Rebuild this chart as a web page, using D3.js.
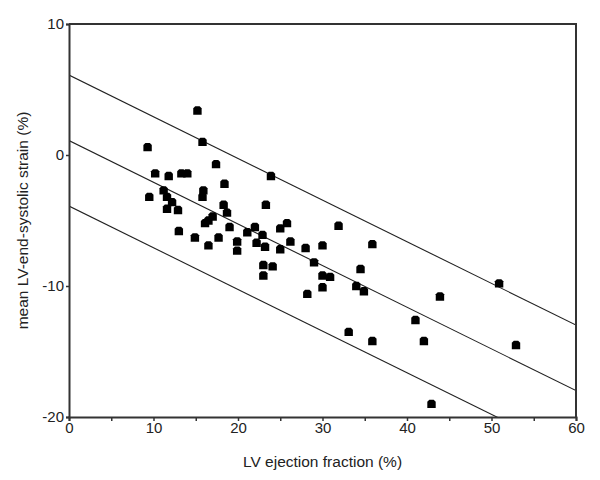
<!DOCTYPE html>
<html>
<head>
<meta charset="utf-8">
<script src="https://cdnjs.cloudflare.com/ajax/libs/d3/7.8.5/d3.min.js"></script>
<style>
  body { margin: 0; background: #fff; }
  text { font-family: 'Liberation Sans', Arial, sans-serif; fill: #222; }
</style>
</head>
<body>
<div id="chart"></div>
<script>
// LV ejection fraction (%)
const ejection = [9.3, 9.5, 10.2, 11.2, 11.8, 11.6, 11.6, 12.2, 12.9, 13.0,
  13.3, 14.0, 14.9, 15.2, 15.8, 15.9, 15.8, 16.1, 16.5, 17.0,
  16.5, 17.4, 17.7, 18.4, 18.3, 18.7, 19.0, 19.9, 19.9, 21.1,
  22.0, 22.2, 22.9, 23.2, 23.0, 23.0, 23.3, 23.9, 24.1, 25.0,
  25.0, 25.8, 26.2, 28.0, 28.2, 29.0, 30.0, 30.0, 30.9, 30.0,
  31.9, 33.1, 34.0, 34.5, 34.9, 35.9, 35.9, 41.0, 42.0, 42.9,
  43.9, 50.9, 52.9];
// mean LV end-systolic strain (%)
const strain = [0.6, -3.2, -1.4, -2.7, -1.6, -3.2, -4.1, -3.6, -4.2, -5.8,
  -1.4, -1.4, -6.3, 3.4, 1.0, -2.7, -3.2, -5.2, -5.0, -4.7,
  -6.9, -0.7, -6.3, -2.2, -3.8, -4.4, -5.5, -6.6, -7.3, -5.9,
  -5.5, -6.7, -6.1, -7.0, -8.4, -9.2, -3.8, -1.6, -8.5, -5.6,
  -7.2, -5.2, -6.6, -7.1, -10.6, -8.2, -6.9, -9.2, -9.3, -10.1,
  -5.4, -13.5, -10.0, -8.7, -10.4, -6.8, -14.2, -12.6, -14.2, -19.0,
  -10.8, -9.8, -14.5];
// regression line and +/- limits
const fitIntercept = 1.1;
const fitSlope = -0.318;
const limitOffsets = [5, 0, -5];
const xTickLabels = [0, 10, 20, 30, 40, 50, 60];
const xMinorTicks = [5, 15, 25, 35, 45, 55];
const yTickLabels = [10, 0, -10, -20];

const width = 600, height = 480;
const margin = { top: 24, right: 24, bottom: 63, left: 69 };

const svg = d3.select('#chart').append('svg')
  .attr('width', width)
  .attr('height', height);

const x = d3.scaleLinear().domain([0, 60]).range([margin.left, width - margin.right]);
const y = d3.scaleLinear().domain([-20, 10]).range([height - margin.bottom, margin.top]);

svg.append('clipPath').attr('id', 'plot-clip')
  .append('rect')
  .attr('x', x(0)).attr('y', y(10))
  .attr('width', x(60) - x(0)).attr('height', y(-20) - y(10));

// fit lines
const line = d3.line().x(d => x(d[0])).y(d => y(d[1]));
svg.append('g').attr('clip-path', 'url(#plot-clip)')
  .selectAll('path')
  .data(limitOffsets)
  .join('path')
  .attr('d', off => line([[0, fitIntercept + off], [60, fitIntercept + off + fitSlope * 60]]))
  .attr('fill', 'none')
  .attr('stroke', '#222')
  .attr('stroke-width', 1.1);

// points: square markers with chamfered top corners
const s = 4.2;
const marker = `M${-s},${s} L${-s},${-s + 2} L${-s + 2},${-s} L${s - 2},${-s} L${s},${-s + 2} L${s},${s} Z`;
svg.append('g')
  .selectAll('path')
  .data(d3.range(ejection.length))
  .join('path')
  .attr('transform', i => `translate(${x(ejection[i])},${y(strain[i])})`)
  .attr('d', marker)
  .attr('fill', '#000');

// axes (plain hyphen for negatives, like the original)
const fmt = d => String(d);
const xAxis = svg.append('g')
  .attr('transform', `translate(0,${y(-20)})`)
  .call(d3.axisBottom(x).tickValues(xTickLabels.concat(xMinorTicks)).tickSize(4).tickFormat(d => xTickLabels.includes(d) ? fmt(d) : ''));
const yAxis = svg.append('g')
  .attr('transform', `translate(${x(0)},0)`)
  .call(d3.axisLeft(y).tickValues(yTickLabels).tickSize(3).tickFormat(fmt));

[xAxis, yAxis].forEach(g => {
  g.select('.domain').attr('stroke', '#333').attr('stroke-width', 2);
  g.selectAll('.tick line').attr('stroke', '#333').attr('stroke-width', 1.5);
  g.selectAll('.tick text').attr('font-size', 15).attr('fill', '#222')
    .attr('font-family', "'Liberation Sans', Arial, sans-serif");
});
xAxis.selectAll('.tick text').attr('dy', '0.71em').attr('y', 5);
yAxis.selectAll('.tick text').attr('x', -5);

// top and right frame
svg.append('path')
  .attr('d', `M${x(0)},${y(10)} H${x(60)} V${y(-20)}`)
  .attr('fill', 'none')
  .attr('stroke', '#333')
  .attr('stroke-width', 2);

// titles
svg.append('text')
  .attr('x', (x(0) + x(60)) / 2)
  .attr('y', 467)
  .attr('text-anchor', 'middle')
  .attr('font-size', 15.5)
  .text('LV ejection fraction (%)');

svg.append('text')
  .attr('transform', `translate(28,${(y(10) + y(-20)) / 2}) rotate(-90)`)
  .attr('text-anchor', 'middle')
  .attr('font-size', 15.5)
  .text('mean LV-end-systolic strain (%)');
</script>
</body>
</html>
